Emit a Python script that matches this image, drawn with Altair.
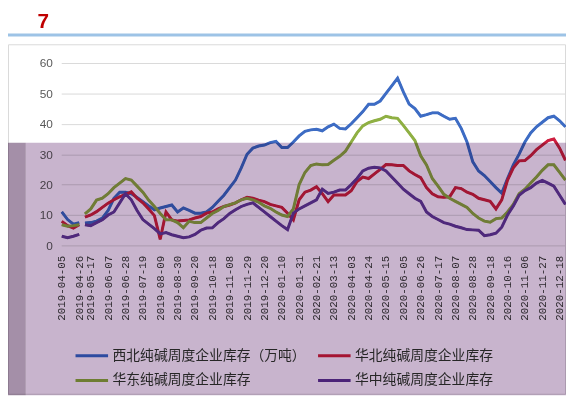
import altair as alt
import pandas as pd

# weekly category axis (National Day weeks are absent from the source table)
dates = ([d.strftime("%Y-%m-%d") for d in pd.date_range("2019-04-05", "2019-09-27", freq="7D")]
         + [d.strftime("%Y-%m-%d") for d in pd.date_range("2019-10-11", "2020-09-25", freq="7D")]
         + [d.strftime("%Y-%m-%d") for d in pd.date_range("2020-10-09", "2020-12-25", freq="7D")])
tick_dates = dates[::3]

names = ["西北纯碱周度企业库存（万吨）", "华北纯碱周度企业库存", "华东纯碱周度企业库存", "华中纯碱周度企业库存"]
legend_order = [names[0], names[2], names[1], names[3]]

xibei = [11, 8.5, 7, 7.5, None, 7.4, 7.5, 8, 9, 11.5,
         15.5, 17.5, 17.5, 17, 15.8, 14.4, 13, 11.7, 12.3, 12.8,
         13.3, 11, 12.3, 11.5, 10.6, 10.6, 11, 12.5, 14.5, 16.5,
         19, 21.5, 25.5, 30, 32, 32.7, 33, 33.8, 34.2, 32.2,
         32.2, 34, 36, 37.5, 38, 38.2, 37.7, 39, 39.9, 38.5,
         38.3, 40, 42, 44, 46.4, 46.4, 47.5, 50, 52.5, 55,
         50.5, 46.5, 45, 42.5, 43, 43.6, 43.6, 42.5, 41.5, 41.8,
         38.5, 34, 27.5, 24.5, 23, 21, 19, 17.2, 22, 26.5,
         30, 34, 37, 39, 40.5, 42, 42.5, 41, 39]

huabei = [7.9, 6.5, 5.7, 6.8, None, 9.3, 10, 11.1, 12.5, 13.9,
          15, 16, 16.8, 17.6, 15.5, 14, 12, 9.8, 2, 11,
          8.4, 8, 8.2, 8.4, 9, 9.5, 10.6, 11, 12, 12.8,
          13.3, 14, 15, 15.8, 15.5, 14.9, 14.4, 13.5, 13, 12.5,
          10.6, 8.4, 15, 17.5, 18.2, 19.3, 17, 14.4, 16.6, 16.6,
          16.6, 18, 21, 22.5, 22, 23.5, 25, 26.6, 26.5, 26.3,
          26.3, 24.5, 23.3, 22.3, 19, 17, 16, 15.8, 16, 19,
          18.7, 17.5, 16.8, 15.5, 15, 14.5, 12, 15, 21.5, 25.5,
          27.8, 27.9, 29.5, 31.5, 33, 34.5, 35, 32, 28]

huadong = [6.8, 6.3, 6.5, 6.8, None, 10.4, 12, 14.9, 15.5, 17,
           19, 20.5, 22, 21.5, 19.5, 17.5, 14.9, 12.8, 10.5, 8.4,
           8.4, 7.5, 5.8, 7.9, 7.5, 7.5, 9, 10.5, 11.5, 12.8,
           13.4, 14, 15, 15.5, 15, 14.2, 13, 12.2, 11, 10,
           9.5, 12, 20, 24, 26.3, 26.8, 26.5, 26.6, 28, 29.3,
           31, 34, 37, 39.3, 40.4, 41, 41.5, 42.5, 42, 41.8,
           39.5, 37, 34.5, 29.5, 26.5, 22, 19.5, 16.8, 15.5, 14.5,
           13.5, 12.5, 10.5, 9, 8, 7.6, 8.8, 9, 11, 13.5,
           17, 18.5, 20.5, 22.5, 24.7, 26.5, 26.5, 24, 21.5]

huazhong = [3, 2.5, 3, 3.6, None, 6.8, 6.5, 7.5, 8.4, 10,
            11, 14, 17, 15, 11.5, 8.5, 7, 5.5, 3.8, 4.2,
            3.5, 3, 2.5, 2.8, 3.6, 5, 5.7, 5.8, 7.5, 8.8,
            10.5, 11.7, 12.8, 13.5, 14, 12.5, 11, 9.5, 8, 6.5,
            5.2, 10.6, 12, 13, 14, 15, 18.5, 17.1, 17.5, 18.2,
            18.2, 20, 22, 24.5, 25.4, 25.7, 25.5, 24.5, 22.5, 20.5,
            18.5, 17, 15.5, 14.5, 11, 9.5, 8.5, 7.5, 7, 6.3,
            5.8, 5.2, 5.1, 5, 3.2, 3.5, 4, 6, 10, 13,
            16.5, 18, 19, 20.5, 21.4, 20.5, 19.5, 16.5, 13.5]

series = [xibei, huabei, huadong, huazhong]
line_colors = ["#3d6cc4", "#cf1f40", "#8fb043", "#653a9a"]
legend_colors = ["#2d4ba0", "#6e7d32", "#a51432", "#4b2378"]  # in legend_order

rows = []
for name, vals in zip(names, series):
    seg = 0
    for d, v in zip(dates, vals):
        if v is None:
            seg += 1
            continue
        rows.append({"date": d, "value": v, "series": name, "seg": seg})
df = pd.DataFrame(rows)
one = pd.DataFrame({"k": [0]})

W, H = 512, 185

x_enc = alt.X("date:O", scale=alt.Scale(type="point", padding=0.1),
              axis=alt.Axis(values=tick_dates, labelAngle=-90, labelFont="Liberation Mono",
                            labelFontSize=11, labelColor="#3a3a3a", labelPadding=10,
                            ticks=False, domain=False, grid=False, title=None))
y_enc = alt.Y("value:Q", scale=alt.Scale(domain=[0, 60]),
              axis=alt.Axis(values=[0, 10, 20, 30, 40, 50, 60], grid=True, gridColor="#d9d9d9",
                            domain=False, ticks=False, labelPadding=9, labelFontSize=12,
                            labelFont="Liberation Sans", labelColor="#595959", title=None))

border = alt.Chart(one).mark_rect(fillOpacity=0, stroke="#d9d9d9", strokeWidth=1).encode(
    x=alt.value(-53.5), x2=alt.value(511.5), y=alt.value(-18.5), y2=alt.value(336))
header = alt.Chart(one).mark_rule(color="#9dc3e6", strokeWidth=3).encode(
    x=alt.value(-54), x2=alt.value(512), y=alt.value(-28.5))
seven = alt.Chart(one).mark_text(text="7", color="#c00000", fontSize=21, fontWeight="bold",
                                 font="Liberation Sans", align="left", baseline="alphabetic").encode(
    x=alt.value(-24), y=alt.value(-36))

legend_lines = alt.Chart(df).mark_line(strokeWidth=2).encode(
    x=x_enc, y=y_enc,
    stroke=alt.Stroke("series:N", scale=alt.Scale(domain=legend_order, range=legend_colors),
                      legend=alt.Legend(orient="none", legendX=13, legendY=279, columns=2,
                                        columnPadding=6, rowPadding=0, symbolType="stroke",
                                        symbolSize=1089, symbolStrokeWidth=3,
                                        labelFont="Noto Sans CJK SC", labelFontSize=14,
                                        labelColor="#262626", labelOffset=3, labelLimit=400,
                                        title=None)),
    detail="seg:N")

lines = alt.Chart(df).mark_line(strokeWidth=3).encode(
    x=x_enc, y=y_enc,
    color=alt.Color("series:N", scale=alt.Scale(domain=names, range=line_colors), legend=None),
    detail="seg:N")

overlay = alt.Chart(one).mark_rect(color="#c8b4cd", blend="multiply").encode(
    x=alt.value(-36), x2=alt.value(512), y=alt.value(81), y2=alt.value(337))
strip = alt.Chart(one).mark_rect(color="#a48fa8", blend="multiply").encode(
    x=alt.value(-54), x2=alt.value(-36), y=alt.value(81), y2=alt.value(337))

chart = alt.layer(border, header, seven, legend_lines, lines, overlay, strip).properties(
    width=W, height=H,
    padding={"left": 54, "top": 53, "right": 0, "bottom": 152},
    autosize=alt.AutoSizeParams(type="none"),
).configure_view(strokeWidth=0)

chart.save("out.html", embed_options={"renderer": "svg", "actions": False})
